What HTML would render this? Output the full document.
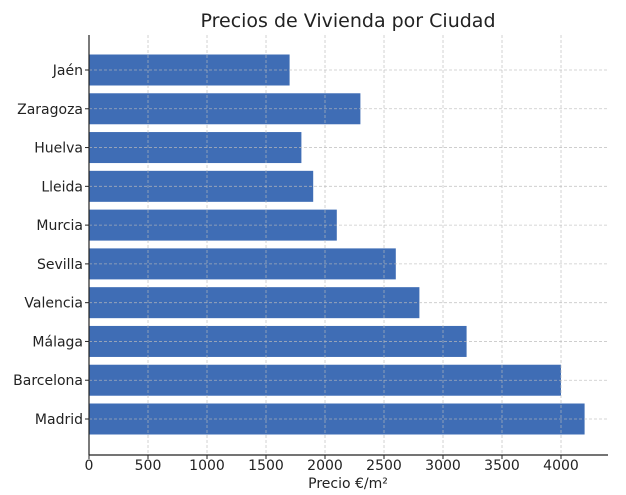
<!DOCTYPE html>
<html><head><meta charset="utf-8"><style>
body{margin:0;background:#fff;}
svg text{font-family:"DejaVu Sans","Liberation Sans",sans-serif;fill:#222;}
</style></head><body>
<svg id="chart" width="626" height="490" xmlns="http://www.w3.org/2000/svg">
<text x="348" y="27" font-size="19" text-anchor="middle">Precios de Vivienda por Ciudad</text>
<g id="bars"></g><g id="grid"></g><g id="ticks"></g>
<line x1="89" y1="35" x2="89" y2="455" stroke="#222" stroke-width="1.2"/>
<line x1="89" y1="455" x2="608" y2="455" stroke="#222" stroke-width="1.2"/>
<text x="348" y="488" font-size="14" text-anchor="middle">Precio €/m²</text>
</svg>
<script>
const categories=["Jaén","Zaragoza","Huelva","Lleida","Murcia","Sevilla","Valencia","Málaga","Barcelona","Madrid"];
const prices=[1700,2300,1800,1900,2100,2600,2800,3200,4000,4200];
const xTicks=[0,500,1000,1500,2000,2500,3000,3500,4000];
const NS="http://www.w3.org/2000/svg";
const x=v=>89+v*(561-89)/4000;
const y=i=>70+i*(419-70)/9;
const bars=document.getElementById('bars'),grid=document.getElementById('grid'),ticks=document.getElementById('ticks');
function mk(tag,attrs,parent){const e=document.createElementNS(NS,tag);for(const k in attrs)e.setAttribute(k,attrs[k]);parent.appendChild(e);return e;}
categories.forEach((c,i)=>{
  const r=mk('rect',{x:x(0),y:y(i)-15.5,width:x(prices[i])-x(0),height:31,fill:'#3f6db5'},bars);
  
  
  const g=mk('line',{x1:89,x2:608,y1:y(i),y2:y(i),stroke:'#bbb','stroke-dasharray':'3,2','stroke-width':0.8,opacity:0.8},grid);
  
  
  const t=mk('text',{x:83,y:y(i)+5,'font-size':14,'text-anchor':'end'},ticks);
  t.textContent=c;
  
  
  mk('line',{x1:85,x2:89,y1:y(i),y2:y(i),stroke:'#222'},ticks);
});
xTicks.forEach(v=>{
  const g=mk('line',{x1:x(v),x2:x(v),y1:35,y2:455,stroke:'#bbb','stroke-dasharray':'3,2','stroke-width':0.8,opacity:0.8},grid);
  
  
  mk('line',{x1:x(v),x2:x(v),y1:455,y2:459,stroke:'#222'},ticks);
  const t=mk('text',{x:x(v),y:470,'font-size':14,'text-anchor':'middle'},ticks);
  t.textContent=v;
  
  
});
</script>
</body></html>
